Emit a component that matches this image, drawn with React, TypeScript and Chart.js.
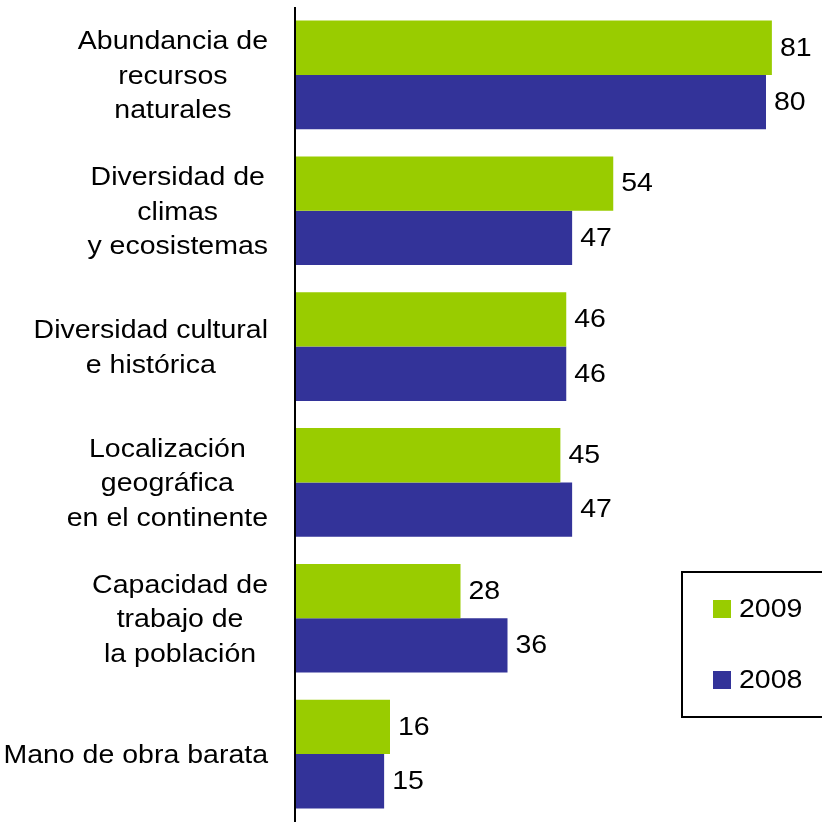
import React, { useEffect, useRef } from "react";
import { Chart, registerables } from "chart.js";

Chart.register(...registerables);

const categories: string[][] = [
  ["Abundancia de", "recursos", "naturales"],
  ["Diversidad de", "climas", "y ecosistemas"],
  ["Diversidad cultural", "e histórica"],
  ["Localización", "geográfica", "en el continente"],
  ["Capacidad de", "trabajo de", "la población"],
  ["Mano de obra barata"],
];
const values2009 = [81, 54, 46, 45, 28, 16];
const values2008 = [80, 47, 46, 47, 36, 15];
const seriesNames = ["2009", "2008"];
const colors = ["#99CC00", "#333399"];

const FONT = "25px 'Liberation Sans', Arial, sans-serif";
const SX = 1.14;

function drawText(ctx: CanvasRenderingContext2D, text: string, x: number, y: number, align: "left" | "center" | "right") {
  ctx.save();
  ctx.translate(x, y);
  ctx.scale(SX, 1);
  ctx.textAlign = align;
  ctx.textBaseline = "middle";
  ctx.fillText(text, 0, 0);
  ctx.restore();
}

const customPlugin = {
  id: "custom",
  afterDatasetsDraw(chart: any) {
    const ctx: CanvasRenderingContext2D = chart.ctx;
    const area = chart.chartArea;
    ctx.save();
    ctx.font = FONT;
    ctx.fillStyle = "#000";
    // value labels
    chart.data.datasets.forEach((ds: any, di: number) => {
      const meta = chart.getDatasetMeta(di);
      meta.data.forEach((bar: any, i: number) => {
        drawText(ctx, String(ds.data[i]), bar.x + 8, bar.y + 1, "left");
      });
    });
    // category labels
    const yScale = chart.scales.y;
    const rightEdge = 268;
    const lh = 34.5;
    categories.forEach((lines, i) => {
      const cy = yScale.getPixelForValue(i) + 2;
      let maxW = 0;
      lines.forEach((l) => {
        maxW = Math.max(maxW, ctx.measureText(l).width * SX);
      });
      const cx = rightEdge - maxW / 2;
      lines.forEach((l, j) => {
        const y = cy + (j - (lines.length - 1) / 2) * lh;
        drawText(ctx, l, cx, y, "center");
      });
    });
    // axis line
    ctx.strokeStyle = "#000";
    ctx.lineWidth = 2;
    ctx.beginPath();
    ctx.moveTo(area.left - 1, area.top);
    ctx.lineTo(area.left - 1, area.bottom);
    ctx.stroke();
    // legend
    ctx.lineWidth = 2;
    ctx.strokeRect(682, 572, 150, 145);
    const ly = [609, 680];
    seriesNames.forEach((n, k) => {
      ctx.fillStyle = colors[k];
      ctx.fillRect(713, ly[k] - 9, 18, 18);
      ctx.fillStyle = "#000";
      drawText(ctx, n, 739, ly[k] + 1, "left");
    });
    ctx.restore();
  },
};

export default function App() {
  const ref = useRef<HTMLCanvasElement | null>(null);
  useEffect(() => {
    document.body.style.margin = "0";
    const chart = new Chart(ref.current!, {
      type: "bar",
      data: {
        labels: categories.map((c) => c.join(" ")),
        datasets: [
          { label: seriesNames[0], data: values2009, backgroundColor: colors[0] },
          { label: seriesNames[1], data: values2008, backgroundColor: colors[1] },
        ],
      },
      options: {
        indexAxis: "y",
        animation: false,
        responsive: false,
        events: [],
        layout: { padding: { left: 296, top: 7, bottom: 3, right: 9 } },
        datasets: { bar: { categoryPercentage: 0.8, barPercentage: 1.0 } },
        scales: {
          x: { display: false, min: 0, max: 88 },
          y: { display: false },
        },
        plugins: { legend: { display: false }, tooltip: { enabled: false } },
      },
      plugins: [customPlugin],
    });
    return () => chart.destroy();
  }, []);
  return <canvas ref={ref} width={822} height={825} style={{ display: "block" }} />;
}
